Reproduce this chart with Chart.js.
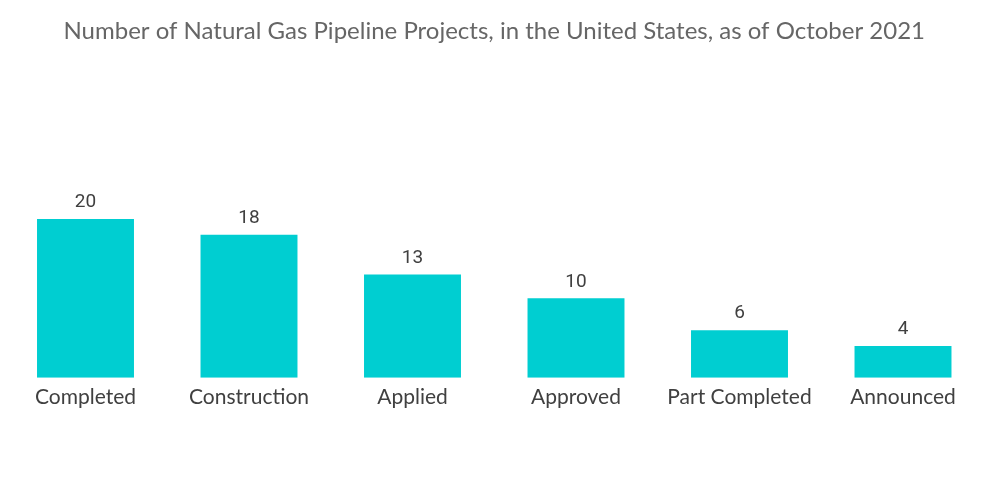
<!DOCTYPE html>
<html>
<head>
<meta charset="utf-8">
<script src="https://cdn.jsdelivr.net/npm/chart.js@4"></script>
<style>
  html, body { margin: 0; padding: 0; background: #fff; }
  #wrap { width: 1000px; height: 504px; }
</style>
</head>
<body>
<div id="wrap"><canvas id="myChart"></canvas></div>
<script>
const labels = ['Completed', 'Construction', 'Applied', 'Approved', 'Part Completed', 'Announced'];
const projects = [20, 18, 13, 10, 6, 4];

// draw the value above each bar
const valueLabels = {
    id: 'valueLabels',
    afterDatasetsDraw(chart) {
        const ctx = chart.ctx;
        const meta = chart.getDatasetMeta(0);
        ctx.save();
        ctx.font = '19px Roboto';
        ctx.fillStyle = '#404040';
        ctx.textAlign = 'center';
        ctx.textBaseline = 'bottom';
        meta.data.forEach((bar, i) => {
            ctx.fillText(projects[i], bar.x, bar.y - 7);
        });
        ctx.restore();
    }
};

const data = {
    labels,
    datasets: [{
        data: projects,
        backgroundColor: '#00CED1',
        categoryPercentage: 1,
        barPercentage: 0.593,
    }],
};

const config = {
    type: 'bar',
    data: data,
    options: {
        responsive: true,
        maintainAspectRatio: false,
        animation: false,
        layout: { padding: { left: 3.75, right: 15.25, top: 0, bottom: 88 } },
        plugins: {
            legend: { display: false },
            tooltip: { enabled: false },
            title: {
                display: true,
                text: 'Number of Natural Gas Pipeline Projects, in the United States, as of October 2021',
                color: '#666666',
                font: { family: 'Lato', size: 24, weight: 'normal' },
                padding: { top: 16.5, bottom: 14.7 },
            },
        },
        scales: {
            x: {
                grid: { display: false, drawTicks: false },
                border: { display: false },
                ticks: {
                    color: '#404040',
                    font: { family: 'Lato', size: 21 },
                    padding: 6.5,
                    maxRotation: 0,
                },
            },
            y: {
                display: false,
                min: 0,
                max: 40,
            },
        },
    },
    plugins: [valueLabels],
};

const myChart = new Chart(document.getElementById('myChart'), config);
</script>
</body>
</html>
